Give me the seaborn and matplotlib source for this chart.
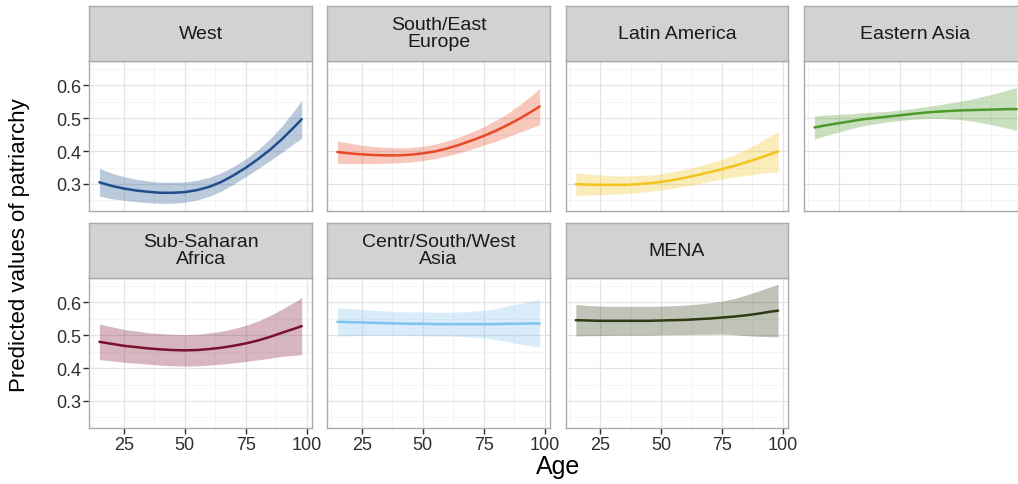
import numpy as np
import pandas as pd
import matplotlib
matplotlib.use("Agg")
import matplotlib.pyplot as plt
from matplotlib.ticker import FixedLocator
import seaborn as sns

ages = [15, 20, 25, 30, 35, 40, 45, 50, 55, 60, 65, 70, 75, 80, 85, 90, 95, 98]

regions = ["West", "South/East\nEurope", "Latin America", "Eastern Asia",
           "Sub-Saharan\nAfrica", "Centr/South/West\nAsia", "MENA"]

west_fit = [0.305, 0.294, 0.286, 0.280, 0.276, 0.273, 0.273, 0.275, 0.281,
            0.291, 0.306, 0.326, 0.349, 0.375, 0.404, 0.437, 0.474, 0.497]
west_lo = [0.263, 0.255, 0.250, 0.246, 0.243, 0.241, 0.241, 0.244, 0.251,
           0.262, 0.278, 0.299, 0.322, 0.346, 0.371, 0.397, 0.424, 0.439]
west_hi = [0.347, 0.333, 0.322, 0.314, 0.309, 0.305, 0.305, 0.306, 0.311,
           0.320, 0.334, 0.353, 0.376, 0.404, 0.437, 0.477, 0.524, 0.555]

see_fit = [0.397, 0.393, 0.390, 0.388, 0.387, 0.387, 0.389, 0.393, 0.399,
           0.408, 0.419, 0.432, 0.446, 0.462, 0.480, 0.500, 0.522, 0.536]
see_lo = [0.363, 0.362, 0.362, 0.362, 0.363, 0.364, 0.367, 0.371, 0.377,
          0.385, 0.395, 0.406, 0.418, 0.430, 0.444, 0.458, 0.472, 0.481]
see_hi = [0.431, 0.424, 0.418, 0.414, 0.411, 0.410, 0.411, 0.415, 0.421,
          0.431, 0.443, 0.458, 0.474, 0.494, 0.516, 0.542, 0.572, 0.591]

lat_fit = [0.299, 0.298, 0.297, 0.297, 0.297, 0.299, 0.302, 0.306, 0.312,
           0.319, 0.327, 0.336, 0.345, 0.355, 0.366, 0.378, 0.391, 0.399]
lat_lo = [0.264, 0.266, 0.267, 0.269, 0.270, 0.273, 0.277, 0.281, 0.287,
          0.293, 0.300, 0.308, 0.315, 0.321, 0.326, 0.331, 0.335, 0.337]
lat_hi = [0.334, 0.330, 0.327, 0.325, 0.324, 0.325, 0.327, 0.331, 0.337,
          0.345, 0.354, 0.364, 0.375, 0.389, 0.406, 0.425, 0.447, 0.461]

eas_fit = [0.472, 0.479, 0.485, 0.491, 0.497, 0.501, 0.505, 0.509, 0.513,
           0.517, 0.520, 0.522, 0.524, 0.525, 0.526, 0.527, 0.528, 0.528]
eas_lo = [0.437, 0.448, 0.458, 0.468, 0.477, 0.483, 0.489, 0.493, 0.497,
          0.499, 0.500, 0.498, 0.496, 0.491, 0.484, 0.477, 0.468, 0.463]
eas_hi = [0.507, 0.510, 0.512, 0.514, 0.517, 0.519, 0.521, 0.525, 0.529,
          0.535, 0.540, 0.546, 0.552, 0.559, 0.568, 0.577, 0.588, 0.593]

ssa_fit = [0.480, 0.474, 0.468, 0.464, 0.460, 0.457, 0.455, 0.454, 0.455,
           0.458, 0.462, 0.468, 0.475, 0.484, 0.495, 0.508, 0.520, 0.528]
ssa_lo = [0.426, 0.422, 0.418, 0.415, 0.412, 0.409, 0.407, 0.406, 0.407,
          0.409, 0.412, 0.416, 0.420, 0.425, 0.430, 0.436, 0.439, 0.441]
ssa_hi = [0.534, 0.526, 0.518, 0.513, 0.508, 0.505, 0.503, 0.502, 0.503,
          0.507, 0.512, 0.520, 0.530, 0.543, 0.560, 0.580, 0.601, 0.615]

csw_fit = [0.541, 0.540, 0.539, 0.538, 0.537, 0.536, 0.535, 0.535, 0.534,
           0.534, 0.534, 0.534, 0.534, 0.534, 0.535, 0.535, 0.536, 0.536]
csw_lo = [0.498, 0.499, 0.499, 0.500, 0.500, 0.500, 0.499, 0.499, 0.498,
          0.498, 0.497, 0.495, 0.492, 0.487, 0.480, 0.473, 0.467, 0.464]
csw_hi = [0.584, 0.581, 0.579, 0.576, 0.574, 0.572, 0.571, 0.571, 0.570,
          0.570, 0.571, 0.573, 0.576, 0.581, 0.590, 0.597, 0.605, 0.608]

mena_fit = [0.546, 0.545, 0.544, 0.544, 0.544, 0.544, 0.544, 0.545, 0.546,
            0.547, 0.549, 0.551, 0.554, 0.557, 0.561, 0.566, 0.572, 0.575]
mena_lo = [0.498, 0.499, 0.499, 0.500, 0.500, 0.500, 0.500, 0.501, 0.502,
           0.502, 0.503, 0.503, 0.504, 0.502, 0.499, 0.497, 0.496, 0.495]
mena_hi = [0.594, 0.591, 0.589, 0.588, 0.588, 0.588, 0.588, 0.589, 0.590,
           0.592, 0.595, 0.599, 0.604, 0.612, 0.623, 0.635, 0.648, 0.655]

colors = ["#1f4e8c", "#e84a27", "#f3c41c", "#4e9a2c",
          "#7b1030", "#7ec3f0", "#2f3b12"]

fits = [west_fit, see_fit, lat_fit, eas_fit, ssa_fit, csw_fit, mena_fit]
los = [west_lo, see_lo, lat_lo, eas_lo, ssa_lo, csw_lo, mena_lo]
his = [west_hi, see_hi, lat_hi, eas_hi, ssa_hi, csw_hi, mena_hi]

rows = []
for r, f, lo, hi in zip(regions, fits, los, his):
    for a, v, l, h in zip(ages, f, lo, hi):
        rows.append({"region": r, "age": a, "fit": v, "lo": l, "hi": h})
df = pd.DataFrame(rows)

sns.set_theme(style="white")
plt.rcParams["font.family"] = ["Liberation Sans", "DejaVu Sans"]

W, H = 1018, 485
fig = plt.figure(figsize=(W / 100, H / 100), dpi=100)

col_left = [89.3, 327.3, 565.7, 804.3]
panel_w = 222.5
row_top = [61.5, 278.5]
panel_h = 150
strip_h = 54.5

border = "#ababab"
txt = "#2e2e2e"

for i, region in enumerate(regions):
    r, c = divmod(i, 4)
    x0 = col_left[c]
    y_top = row_top[r]
    ax = fig.add_axes([x0 / W, 1 - (y_top + panel_h) / H, panel_w / W, panel_h / H])
    sub = df[df["region"] == region]
    ax.fill_between(sub["age"], sub["lo"], sub["hi"], color=colors[i], alpha=0.3,
                    linewidth=0)
    sns.lineplot(data=sub, x="age", y="fit", color=colors[i], linewidth=1.8, ax=ax)
    ax.set_xlim(10.85, 102.15)
    ax.set_ylim(0.219, 0.676)
    ax.xaxis.set_major_locator(FixedLocator([25, 50, 75, 100]))
    ax.yaxis.set_major_locator(FixedLocator([0.3, 0.4, 0.5, 0.6]))
    ax.xaxis.set_minor_locator(FixedLocator([12.5, 37.5, 62.5, 87.5]))
    ax.yaxis.set_minor_locator(FixedLocator([0.25, 0.35, 0.45, 0.55, 0.65]))
    ax.grid(which="major", color="#e3e3e3", linewidth=0.9)
    ax.grid(which="minor", color="#f2f2f2", linewidth=0.6)
    ax.set_axisbelow(True)
    ax.set_facecolor("white")
    for s in ax.spines.values():
        s.set_color(border)
        s.set_linewidth(1.0)
    ax.set_xlabel("")
    ax.set_ylabel("")
    ax.tick_params(which="major", length=4, width=1.0, color=txt,
                   labelsize=13, labelcolor=txt, pad=2,
                   bottom=(r == 1), left=(c == 0))
    ax.tick_params(which="minor", length=0)
    if r == 1:
        ax.set_xticklabels(["25", "50", "75", "100"])
    else:
        ax.set_xticklabels([])
    if c == 0:
        ax.set_yticklabels(["0.3", "0.4", "0.5", "0.6"])
    else:
        ax.set_yticklabels([])

    # facet strip
    sax = fig.add_axes([x0 / W, 1 - y_top / H, panel_w / W, strip_h / H])
    sax.set_facecolor("#d2d2d2")
    sax.set_xticks([])
    sax.set_yticks([])
    for s in sax.spines.values():
        s.set_color(border)
        s.set_linewidth(1.0)
    sax.text(0.5, 0.5, region, ha="center", va="center", fontsize=14,
             color="#1a1a1a", linespacing=1.0, transform=sax.transAxes)

fig.text(20 / W, 1 - 245 / H, "Predicted values of patriarchy", rotation=90,
         ha="center", va="center", fontsize=16, color="black")
fig.text(558 / W, 1 - 467 / H, "Age", ha="center", va="center",
         fontsize=18, color="black")

fig.savefig("out.png", dpi=100)
